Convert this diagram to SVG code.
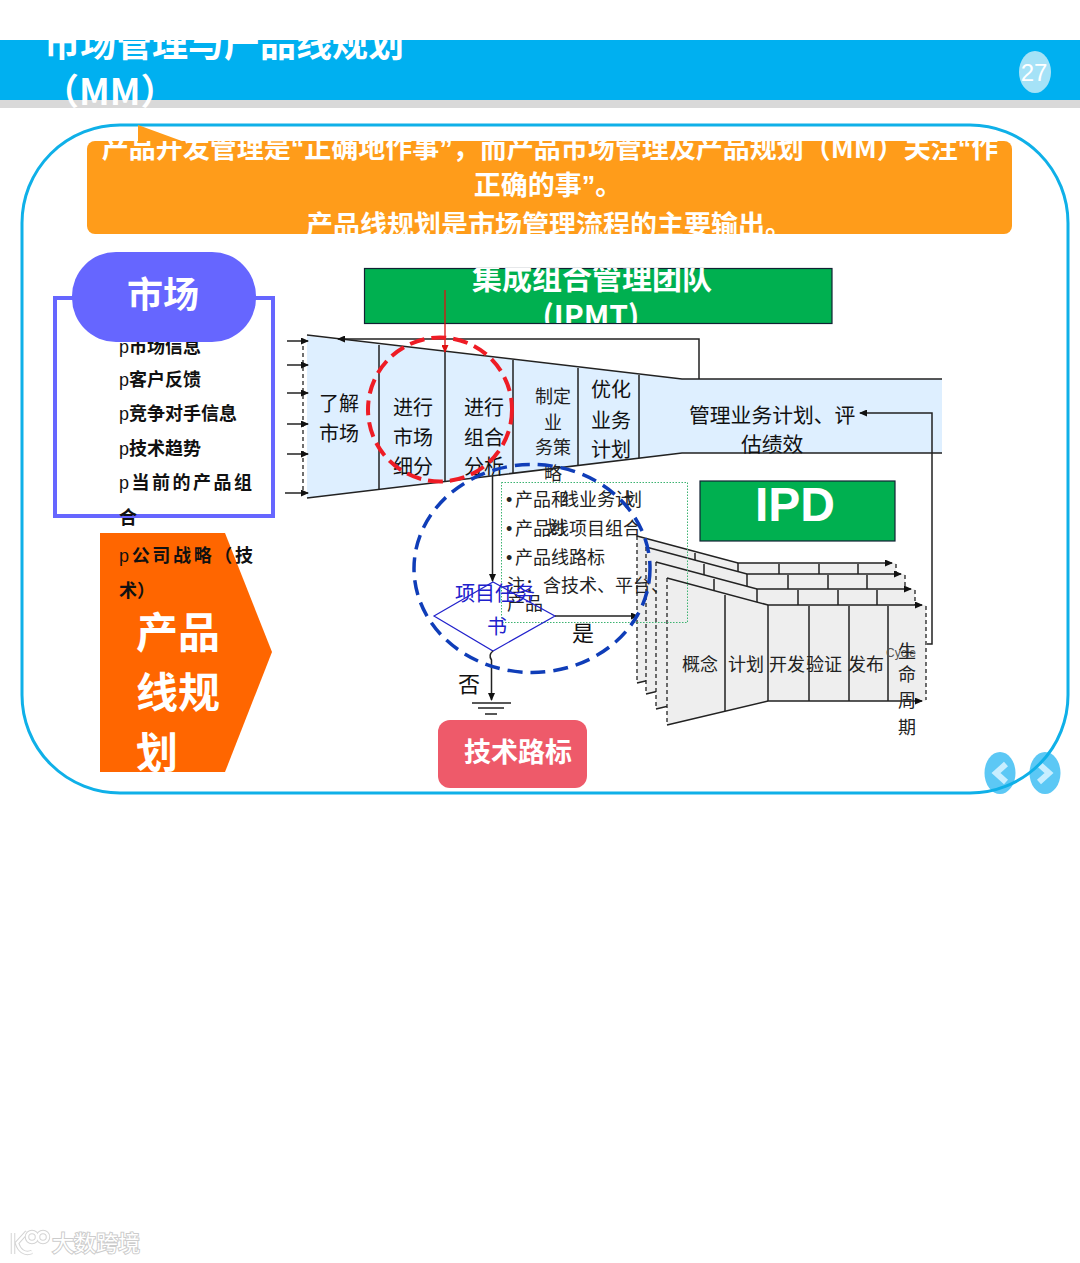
<svg xmlns="http://www.w3.org/2000/svg" width="1080" height="1263" viewBox="0 0 1080 1263">
<style>
text{font-family:"Noto Sans CJK SC","Liberation Sans",sans-serif}
.w{fill:#fff;font-weight:700}
.k{fill:#111;font-size:20px}
.li{fill:#111;font-size:18px;font-weight:700}
.t{fill:#222;font-size:18px}
.ln{stroke:#222;stroke-width:1.5;fill:none}
.dash{stroke:#222;stroke-width:1.3;stroke-dasharray:4 3;fill:none}
.layer{fill:#EEEEEE}
.m{text-anchor:middle}
.la{font-family:"Liberation Sans",sans-serif}
.p{font-family:"Liberation Sans",sans-serif;font-weight:400}
</style>
<defs>
<marker id="a" markerWidth="8" markerHeight="7" refX="7" refY="3.500" orient="auto" markerUnits="userSpaceOnUse"><path d="M0 0L8 3.500L0 7Z" fill="#111"/></marker>
<marker id="r" markerWidth="8" markerHeight="7" refX="7" refY="3.500" orient="auto" markerUnits="userSpaceOnUse"><path d="M0 0L8 3.500L0 7Z" fill="#e01010"/></marker>
<clipPath id="cT"><rect x="0" y="40" width="1080" height="68"/></clipPath>
<clipPath id="cO"><rect x="87" y="141" width="925" height="93"/></clipPath>
<clipPath id="cI"><rect x="364" y="268" width="468" height="55"/></clipPath>
<g id="lay">
<path class="layer" d="M667 578L768 605H926V701H768L667 725Z"/>
<path class="ln" d="M667 725L768 701H922" marker-end="url(#a)"/>
<path class="ln" d="M667 578L768 605H922" marker-end="url(#a)"/>
<path class="dash" d="M667 578V725M926 606V700"/>
<path class="ln" d="M725 595V711M768 605V701M809 606V701M849 606V701M888 606V701"/>
</g>
</defs>

<g id="header">
<rect x="0" y="40" width="1080" height="60" fill="#00B0F0"/>
<rect x="0" y="100" width="1080" height="8" fill="#D9D9D9"/>
<g clip-path="url(#cT)">
<text class="w" x="44" y="57" font-size="36">市场管理与产品线规划</text>
<text class="w" x="43" y="105" font-size="36">（MM）</text>
</g>
<ellipse cx="1035" cy="72" rx="16" ry="21" fill="#A5E2F7"/>
<text x="1034" y="81" font-size="24" fill="#fff" class="m la">27</text>
</g>

<g id="nav">
<ellipse cx="1000" cy="773" rx="15.500" ry="21" fill="#5CC8F5"/>
<ellipse cx="1045" cy="773" rx="15.500" ry="21" fill="#5CC8F5"/>
<path d="M1006 764L996 773L1006 782" fill="none" stroke="#C8EEFF" stroke-width="6"/>
<path d="M1039 764L1049 773L1039 782" fill="none" stroke="#C8EEFF" stroke-width="6"/>
</g>
<rect id="frame" x="22" y="125" width="1046" height="668" rx="98" fill="none" stroke="#0FB0E8" stroke-width="3"/>

<g id="intro">
<path d="M138 125L190 144H138Z" fill="#FF9C1A"/>
<rect x="87" y="141" width="925" height="93" rx="8" fill="#FF9C1A"/>
<g clip-path="url(#cO)">
<text class="w m" x="550" y="158" font-size="27">产品开发管理是<tspan class="la">“</tspan>正确地作事<tspan class="la">”</tspan>，而产品市场管理及产品规划（MM）关注<tspan class="la">“</tspan>作</text>
<text class="w m" x="548" y="195" font-size="27">正确的事<tspan class="la">”</tspan>。</text>
<text class="w" x="306" y="235" font-size="27">产品线规划是市场管理流程的主要输出。</text>
</g>
</g>

<g id="market">
<rect x="55" y="298" width="218" height="218" fill="#fff" stroke="#6666FF" stroke-width="4"/>
<text class="li" x="119" y="353"><tspan class="p">p</tspan>市场信息</text>
<text class="li" x="119" y="386"><tspan class="p">p</tspan>客户反馈</text>
<text class="li" x="119" y="420"><tspan class="p">p</tspan>竞争对手信息</text>
<text class="li" x="119" y="455"><tspan class="p">p</tspan>技术趋势</text>
<text class="li" x="119" y="489" textLength="133"><tspan class="p">p</tspan>当前的产品组</text>
<text class="li" x="119" y="524">合</text>
<rect x="72" y="252" width="184" height="90" rx="44" fill="#6666FF"/>
<text class="w m" x="163" y="308" font-size="36">市场</text>
</g>

<g id="plan">
<path d="M100 533H225L272 652L225 772H100Z" fill="#FF6600"/>
<text class="li" x="119" y="562" textLength="134"><tspan class="p">p</tspan>公司战略（技</text>
<text class="li" x="119" y="597">术）</text>
<text class="w" x="136" y="648" font-size="42">产品</text>
<text class="w" x="136" y="708" font-size="42">线规</text>
<text class="w" x="136" y="768" font-size="42">划</text>
</g>

<g id="funnel">
<path d="M307 336L682 379H942V453H682L307 498Z" fill="#DEEFFF"/>
<path class="ln" d="M307 335L682 379H942M307 498L682 453H942"/>
<path class="dash" d="M303 339V495"/>
<path class="ln" d="M379 345V490M445 352V482M513 360V473M578 368V466M639 375V458"/>
<text class="k" x="319" y="411">了解</text>
<text class="k" x="319" y="441">市场</text>
<text class="k" x="393" y="415">进行</text>
<text class="k" x="393" y="445">市场</text>
<text class="k" x="393" y="474">细分</text>
<text class="k" x="464" y="415">进行</text>
<text class="k" x="464" y="445">组合</text>
<text class="k" x="464" y="474">分析</text>
<text class="t" x="535" y="403">制定</text>
<text class="t" x="544" y="429">业</text>
<text class="t" x="535" y="454">务策</text>
<text class="t" x="544" y="480">略</text>
<text class="k" x="591" y="397">优化</text>
<text class="k" x="591" y="428">业务</text>
<text class="k" x="591" y="457">计划</text>
<text class="k" x="689" y="423" style="font-size:20.800px">管理业务计划、评</text>
<text class="k" x="741" y="452" style="font-size:20.800px">估绩效</text>
</g>

<g id="ipmt">
<rect x="364.500" y="268.500" width="467.500" height="55" fill="#00B050" stroke="#123" stroke-width="1.200"/>
<g clip-path="url(#cI)">
<text class="w m" x="592" y="289" font-size="30">集成组合管理团队</text>
<text class="w m" x="591" y="327" font-size="30">(IPMT)</text>
</g>
</g>

<g id="ipd">
<rect x="700" y="481" width="195" height="60" fill="#00B050" stroke="#123" stroke-width="1.200"/>
<text class="m la" x="795" y="521" font-size="48" fill="#fff" font-weight="700">IPD</text>
</g>

<g id="layers">
<use href="#lay" transform="translate(-30 -42)"/>
<use href="#lay" transform="translate(-21 -31)"/>
<use href="#lay" transform="translate(-11 -16)"/>
<use href="#lay"/>
<text class="t" x="682" y="671">概念</text>
<text class="t" x="728" y="671">计划</text>
<text class="t" x="769" y="671">开发</text>
<text class="t" x="806" y="671">验证</text>
<text class="t" x="848" y="671">发布</text>
<text x="886" y="657" font-size="12" fill="#555" class="la">Cycle</text>
<text class="t" x="898" y="658">生</text>
<text class="t" x="898" y="681">命</text>
<text class="t" x="898" y="707">周</text>
<text class="t" x="898" y="734">期</text>
</g>

<g id="outputs">
<rect x="501.500" y="482.500" width="186" height="140" fill="none" stroke="#3CB371" stroke-width="1" stroke-dasharray="1.500 1.500"/>
<text class="t la" x="506" y="506">•</text>
<text class="t" x="515" y="506">产品和</text>
<text class="t" x="561" y="506">线业务计</text>
<text class="t" x="624" y="506">划</text>
<text class="t la" x="506" y="535">•</text>
<text class="t" x="515" y="535">产品线项目组合</text>
<text class="t" x="546" y="534">划</text>
<text class="t la" x="506" y="564">•</text>
<text class="t" x="515" y="564">产品线路标</text>
<text class="t" x="507" y="592">注：含技术、平台、</text>
<text class="t" x="507" y="610">产品</text>
</g>

<g id="decision">
<path d="M434 616L493 582L555 616L493 651Z" fill="none" stroke="#2222CC" stroke-width="1.200"/>
<text x="455" y="601" font-size="20" fill="#2020CC">项目任务</text>
<text x="487" y="634" font-size="20" fill="#2020CC">书</text>
<text class="k" x="572" y="641" style="font-size:22px">是</text>
<text class="k" x="458" y="692" style="font-size:22px">否</text>
</g>

<g id="connectors">
<path class="ln" d="M287 341H308" marker-end="url(#a)"/>
<path class="ln" d="M287 365H308" marker-end="url(#a)"/>
<path class="ln" d="M287 393H308" marker-end="url(#a)"/>
<path class="ln" d="M287 424H308" marker-end="url(#a)"/>
<path class="ln" d="M287 454H308" marker-end="url(#a)"/>
<path class="ln" d="M285 493H308" marker-end="url(#a)"/>
<path class="ln" d="M699 379V339H338" marker-end="url(#a)"/>
<path d="M445 290V352" stroke="#e01010" stroke-width="1.300" fill="none" marker-end="url(#r)"/>
<path class="ln" d="M927 644H932V413H860" marker-end="url(#a)"/>
<path class="ln" d="M492.500 476V581" marker-end="url(#a)"/>
<path class="ln" d="M555 616H638" marker-end="url(#a)"/>
<path class="ln" d="M493 651Q488 655 491.500 660V700" marker-end="url(#a)"/>
<path class="ln" d="M472 703H511M478 708H504M485 714H497"/>
</g>

<ellipse id="red-ring" cx="440" cy="409.500" rx="72" ry="72" fill="none" stroke="#EE1C25" stroke-width="4" stroke-dasharray="15 7"/>
<ellipse id="blue-ring" cx="532" cy="568.500" rx="118" ry="104" fill="none" stroke="#0F3DB8" stroke-width="3.500" stroke-dasharray="15 8"/>

<g id="roadmap">
<rect x="438" y="720" width="149" height="68" rx="12" fill="#EE5A6A"/>
<text class="w" x="464" y="762" font-size="27">技术路标</text>
</g>

<g id="watermark" fill="none" stroke="#fff" stroke-width="2.500">
<path d="M13 1233V1254M27 1232L17 1243C19 1250 24 1255 32 1252" stroke="#d4d4d4" stroke-width="4.500"/>
<path d="M13 1233V1254M27 1232L17 1243C19 1250 24 1255 32 1252"/>
<circle cx="32" cy="1237" r="5" stroke="#d4d4d4" stroke-width="4.500"/>
<circle cx="43" cy="1237" r="5" stroke="#d4d4d4" stroke-width="4.500"/>
<circle cx="32" cy="1237" r="5"/>
<circle cx="43" cy="1237" r="5"/>
<text x="52" y="1251" font-size="22" fill="#fff" stroke="#ccc" stroke-width="2" paint-order="stroke">大数跨境</text>
</g>
</svg>
